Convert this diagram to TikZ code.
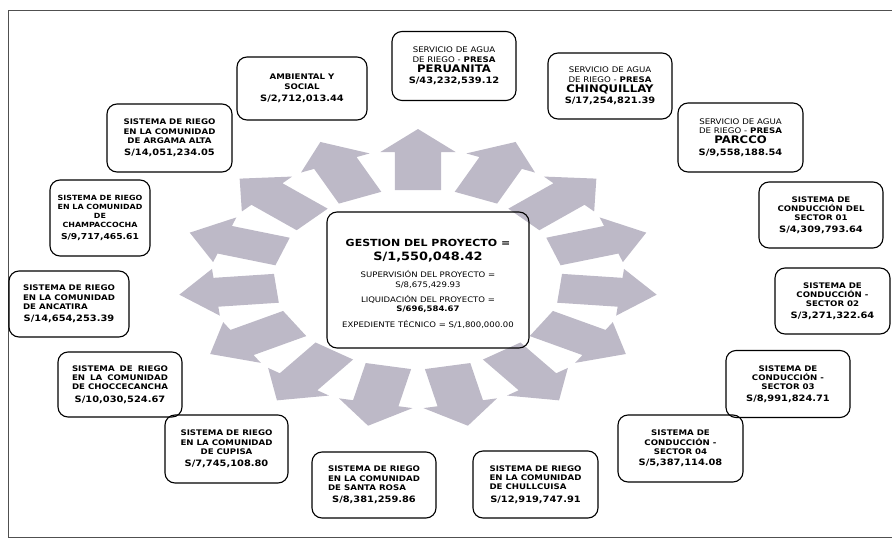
\documentclass[tikz,border=0pt]{standalone}
\usepackage{fontspec}
\newfontfamily\bxf[FakeStretch=1.12]{DejaVu Sans}
\definecolor{arrowfill}{RGB}{189,185,199}
\definecolor{framecol}{RGB}{80,80,80}
\newlength\jw
\newcommand\setjw[1]{\settowidth\jw{#1}\global\jw=\jw}
\newcommand\amtx[1]{{\fontsize{8.8}{10}\selectfont #1}}
\newcommand\bign[1]{{\fontsize{10.4}{11}\selectfont #1}}
\begin{document}
\begin{tikzpicture}[x=1pt,y=-1pt,
  box/.style={draw, line width=1.1pt, rounded corners=10pt, inner sep=0pt, align=center,
    font=\bxf\bfseries\fontsize{7.7}{9.4}\selectfont}]
\useasboundingbox (0,0) rectangle (892,538);
\draw[framecol, line width=0.9pt] (892,10) -- (8,10) -- (8,537) -- (892,537);

% radial block arrows
\foreach \k in {0,...,14}{
  \pgfmathsetmacro\ang{90+24*\k}
  \begin{scope}[shift={(418,279)}, xscale=1.6, rotate=\ang]
    \fill[arrowfill] (89,14.5) -- (127,14.5) -- (127,23.5) -- (150,0) -- (127,-23.5) -- (127,-14.5) -- (89,-14.5) -- cycle;
  \end{scope}}

% centre
\node[box, minimum width=202pt, minimum height=136pt] (gest) at (428,280) {};
\node[anchor=north, inner sep=0pt, align=center, font=\bxf\fontsize{7.6}{8.8}\selectfont] (gesttxt) at (428,239)
 {{\bfseries\fontsize{9.8}{11}\selectfont GESTION DEL PROYECTO =}\\[5pt]
  {\bfseries\fontsize{11.5}{12}\selectfont S/1,550,048.42}\\[8pt]
  SUPERVISIÓN DEL PROYECTO =\\[1.5pt]
  S/8,675,429.93\\[6pt]
  LIQUIDACIÓN DEL PROYECTO =\\[1pt]
  {\bfseries S/696,584.67}\\[7pt]
  EXPEDIENTE TÉCNICO = S/1,800,000.00};

% outer boxes
\node[box, minimum width=130pt, minimum height=63pt] (amb) at (302,88.5)
 {AMBIENTAL Y\\SOCIAL\\[3pt]\amtx{S/2,712,013.44}};
\node[box, minimum width=124pt, minimum height=69pt] (peru) at (454,66)
 {{\mdseries SERVICIO DE AGUA}\\{\mdseries DE RIEGO -} PRESA\\[1pt]\bign{PERUANITA}\\[2pt]\amtx{S/43,232,539.12}};
\node[box, minimum width=124pt, minimum height=66pt] (chin) at (610,86)
 {{\mdseries SERVICIO DE AGUA}\\{\mdseries DE RIEGO -} PRESA\\[1pt]\bign{CHINQUILLAY}\\[2pt]\amtx{S/17,254,821.39}};
\node[box, minimum width=125pt, minimum height=69pt] (parc) at (740.5,137.5)
 {{\mdseries SERVICIO DE AGUA}\\{\mdseries DE RIEGO -} PRESA\\[1pt]\bign{PARCCO}\\[2pt]\amtx{S/9,558,188.54}};
\node[box, minimum width=124pt, minimum height=66pt] (s01) at (821,215)
 {SISTEMA DE\\CONDUCCIÓN DEL\\SECTOR 01\\[2pt]\amtx{S/4,309,793.64}};
\node[box, minimum width=115pt, minimum height=66pt] (s02) at (832.5,301)
 {SISTEMA DE\\CONDUCCIÓN -\\SECTOR 02\\[2pt]\amtx{S/3,271,322.64}};
\node[box, minimum width=124pt, minimum height=67pt] (s03) at (788,384)
 {SISTEMA DE\\CONDUCCIÓN -\\SECTOR 03\\[2pt]\amtx{S/8,991,824.71}};
\node[box, minimum width=125pt, minimum height=67pt] (s04) at (680.5,448.5)
 {SISTEMA DE\\CONDUCCIÓN -\\SECTOR 04\\[2pt]\amtx{S/5,387,114.08}};
\node[box, minimum width=125pt, minimum height=67pt] (chull) at (535.5,484.5)
 {\setjw{SISTEMA DE RIEGO}\makebox[\jw][s]{SISTEMA DE RIEGO}\\\makebox[\jw][s]{EN LA COMUNIDAD}\\\makebox[\jw][l]{DE CHULLCUISA}\\[3pt]\amtx{S/12,919,747.91}};
\node[box, minimum width=124pt, minimum height=66pt] (santa) at (374,485)
 {\setjw{SISTEMA DE RIEGO}\makebox[\jw][s]{SISTEMA DE RIEGO}\\\makebox[\jw][s]{EN LA COMUNIDAD}\\\makebox[\jw][l]{DE SANTA ROSA}\\[3pt]\amtx{S/8,381,259.86}};
\node[box, minimum width=123pt, minimum height=68pt] (cupi) at (226.5,449)
 {SISTEMA DE RIEGO\\EN LA COMUNIDAD\\DE CUPISA\\[3pt]\amtx{S/7,745,108.80}};
\node[box, minimum width=124pt, minimum height=65pt] (chocc) at (120,384.5)
 {\setjw{DE CHOCCECANCHA}\makebox[\jw][s]{SISTEMA DE RIEGO}\\\makebox[\jw][s]{EN LA COMUNIDAD}\\DE CHOCCECANCHA\\[3pt]\amtx{S/10,030,524.67}};
\node[box, minimum width=120pt, minimum height=66pt] (anca) at (69,304)
 {\setjw{SISTEMA DE RIEGO}\makebox[\jw][l]{SISTEMA DE RIEGO}\\\makebox[\jw][l]{EN LA COMUNIDAD}\\\makebox[\jw][l]{DE ANCATIRA}\\[3pt]\amtx{S/14,654,253.39}};
\node[box, minimum width=100pt, minimum height=76pt, font=\bxf\bfseries\fontsize{7.1}{9.2}\selectfont] (champ) at (100,218)
 {SISTEMA DE RIEGO\\EN LA COMUNIDAD\\DE\\CHAMPACCOCHA\\[3pt]{\fontsize{8.2}{9}\selectfont S/9,717,465.61}};
\node[box, minimum width=125pt, minimum height=68pt] (arga) at (169.5,138)
 {SISTEMA DE RIEGO\\EN LA COMUNIDAD\\DE ARGAMA ALTA\\[3pt]\amtx{S/14,051,234.05}};
\end{tikzpicture}
\end{document}
